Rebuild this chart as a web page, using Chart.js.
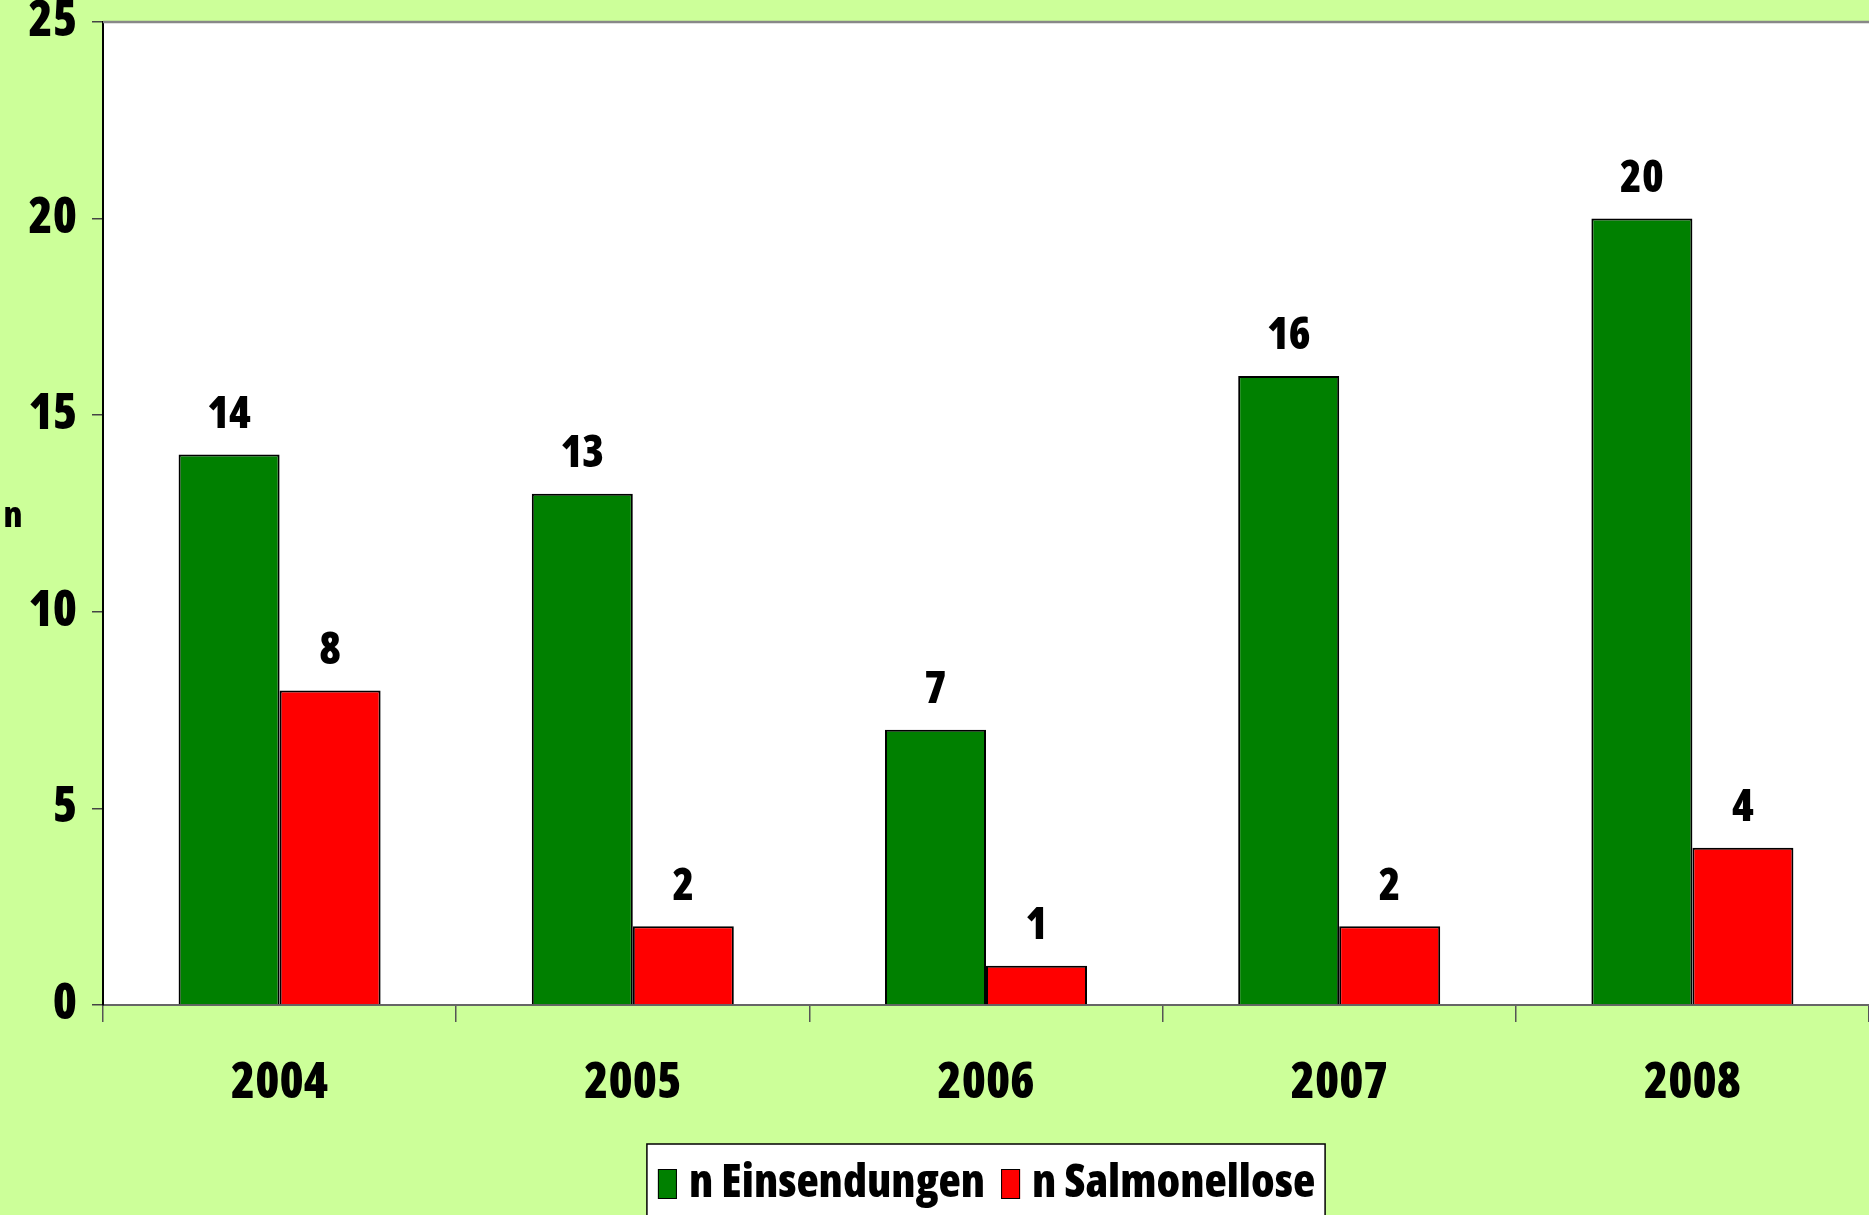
<!DOCTYPE html>
<html>
<head>
<meta charset="utf-8">
<script src="https://cdn.jsdelivr.net/npm/chart.js@4.4.1/dist/chart.umd.min.js"></script>
<style>
  html, body { margin: 0; padding: 0; background: #ccff99; overflow: hidden; }
</style>
</head>
<body>
<canvas id="chart" width="1869" height="1215"></canvas>
<script>
const years = ['2004', '2005', '2006', '2007', '2008']
const einsendungen = [14, 13, 7, 16, 20]
const salmonellose = [8, 2, 1, 2, 4]
const yMin = 0
const yMax = 25
const yStep = 5

const FONT = '"Open Sans", "DejaVu Sans Condensed", sans-serif'
const WEIGHT = 800
const BG = '#ccff99'

// Chart.js only sets ctx.font, so keep every text condensed
const fontDesc = Object.getOwnPropertyDescriptor(CanvasRenderingContext2D.prototype, 'font')
Object.defineProperty(CanvasRenderingContext2D.prototype, 'font', {
  configurable: true,
  get () { return fontDesc.get.call(this) },
  set (v) {
    fontDesc.set.call(this, v)
    this.fontStretch = 'condensed'
  }
})

// background, white plot area
const framePlugin = {
  id: 'frame',
  beforeDraw (chart) {
    const { ctx, chartArea: a } = chart
    ctx.save()
    ctx.fillStyle = BG
    ctx.fillRect(0, 0, chart.width, chart.height)
    ctx.fillStyle = '#ffffff'
    ctx.fillRect(a.left, a.top, a.right - a.left, a.bottom - a.top)
    ctx.restore()
  },
  afterDraw (chart) {
    const { ctx, chartArea: a } = chart
    ctx.save()
    ctx.strokeStyle = '#888888'
    ctx.lineWidth = 2.5
    ctx.beginPath()
    ctx.moveTo(a.left, a.top)
    ctx.lineTo(a.right, a.top)
    ctx.stroke()
    // axis name, upright
    ctx.fillStyle = '#000000'
    ctx.font = WEIGHT + ' 36px ' + FONT
    ctx.textAlign = 'center'
    ctx.textBaseline = 'middle'
    ctx.fillText('n', 13, (a.top + a.bottom) / 2 + 3)
    ctx.restore()
  }
}

// legend in a framed box under the axis
const legendPlugin = {
  id: 'boxLegend',
  afterDraw (chart) {
    const { ctx, chartArea: a } = chart
    const sets = chart.data.datasets
    ctx.save()
    ctx.font = WEIGHT + ' 46px ' + FONT
    ctx.textBaseline = 'middle'
    ctx.textAlign = 'left'
    const sq = 19, sqH = 30, gap = 12, between = 16, padL = 11, padR = 10
    const widths = sets.map(ds => ctx.measureText(ds.label).width)
    let total = padL + padR + between * (sets.length - 1)
    widths.forEach(w => { total += sq + gap + w })
    const top = a.bottom + 139
    const cy = top + 40
    let x = (a.left + a.right) / 2 - total / 2
    ctx.fillStyle = '#ffffff'
    ctx.fillRect(x, top, total, chart.height - top + 10)
    ctx.strokeStyle = '#000000'
    ctx.lineWidth = 1.5
    ctx.strokeRect(x, top, total, chart.height - top + 10)
    x += padL
    sets.forEach((ds, i) => {
      ctx.fillStyle = ds.backgroundColor
      ctx.fillRect(x, cy - sqH / 2, sq, sqH)
      ctx.lineWidth = 1
      ctx.strokeRect(x + 0.5, cy - sqH / 2 + 0.5, sq - 1, sqH - 1)
      x += sq + gap
      ctx.fillStyle = '#000000'
      ctx.fillText(ds.label, x, cy)
      x += widths[i] + between
    })
    ctx.restore()
  }
}

// value labels above bars
const valuePlugin = {
  id: 'values',
  afterDatasetsDraw (chart) {
    const { ctx } = chart
    ctx.save()
    ctx.fillStyle = '#000000'
    ctx.font = WEIGHT + ' 44px ' + FONT
    ctx.textAlign = 'center'
    ctx.textBaseline = 'middle'
    chart.data.datasets.forEach((ds, i) => {
      chart.getDatasetMeta(i).data.forEach((bar, j) => {
        ctx.fillText(String(ds.data[j]), bar.x, bar.y - 39)
      })
    })
    ctx.restore()
  }
}

new Chart(document.getElementById('chart'), {
  type: 'bar',
  data: {
    labels: years,
    datasets: [
      {
        label: 'n Einsendungen',
        data: einsendungen,
        backgroundColor: '#008000',
        borderColor: '#000000',
        borderWidth: 2
      },
      {
        label: 'n Salmonellose',
        data: salmonellose,
        backgroundColor: '#ff0000',
        borderColor: '#000000',
        borderWidth: 2
      }
    ]
  },
  options: {
    responsive: false,
    animation: false,
    devicePixelRatio: 1,
    layout: { padding: { top: 22, left: 0, right: 0, bottom: 71 } },
    datasets: {
      bar: { barPercentage: 1, categoryPercentage: 0.572 }
    },
    scales: {
      x: {
        grid: {
          offset: true,
          drawOnChartArea: false,
          tickLength: 17,
          color: '#555555',
          lineWidth: 1.5
        },
        border: { display: true, color: '#666666', width: 2 },
        ticks: {
          color: '#000000',
          padding: 38,
          font: { family: FONT, size: 49, weight: WEIGHT, lineHeight: 1 }
        },
        afterFit (scale) { scale.height = 139 }
      },
      y: {
        min: yMin,
        max: yMax,
        ticks: {
          stepSize: yStep,
          color: '#000000',
          padding: 15,
          font: { family: FONT, size: 49, weight: WEIGHT, lineHeight: 0.1 }
        },
        grid: {
          drawOnChartArea: false,
          tickLength: 11,
          color: '#444444',
          lineWidth: 1.5
        },
        border: { display: true, color: '#000000', width: 2 },
        afterFit (scale) { scale.width = 103 }
      }
    },
    plugins: {
      legend: { display: false },
      tooltip: { enabled: false }
    }
  },
  plugins: [framePlugin, valuePlugin, legendPlugin]
})
</script>
</body>
</html>
